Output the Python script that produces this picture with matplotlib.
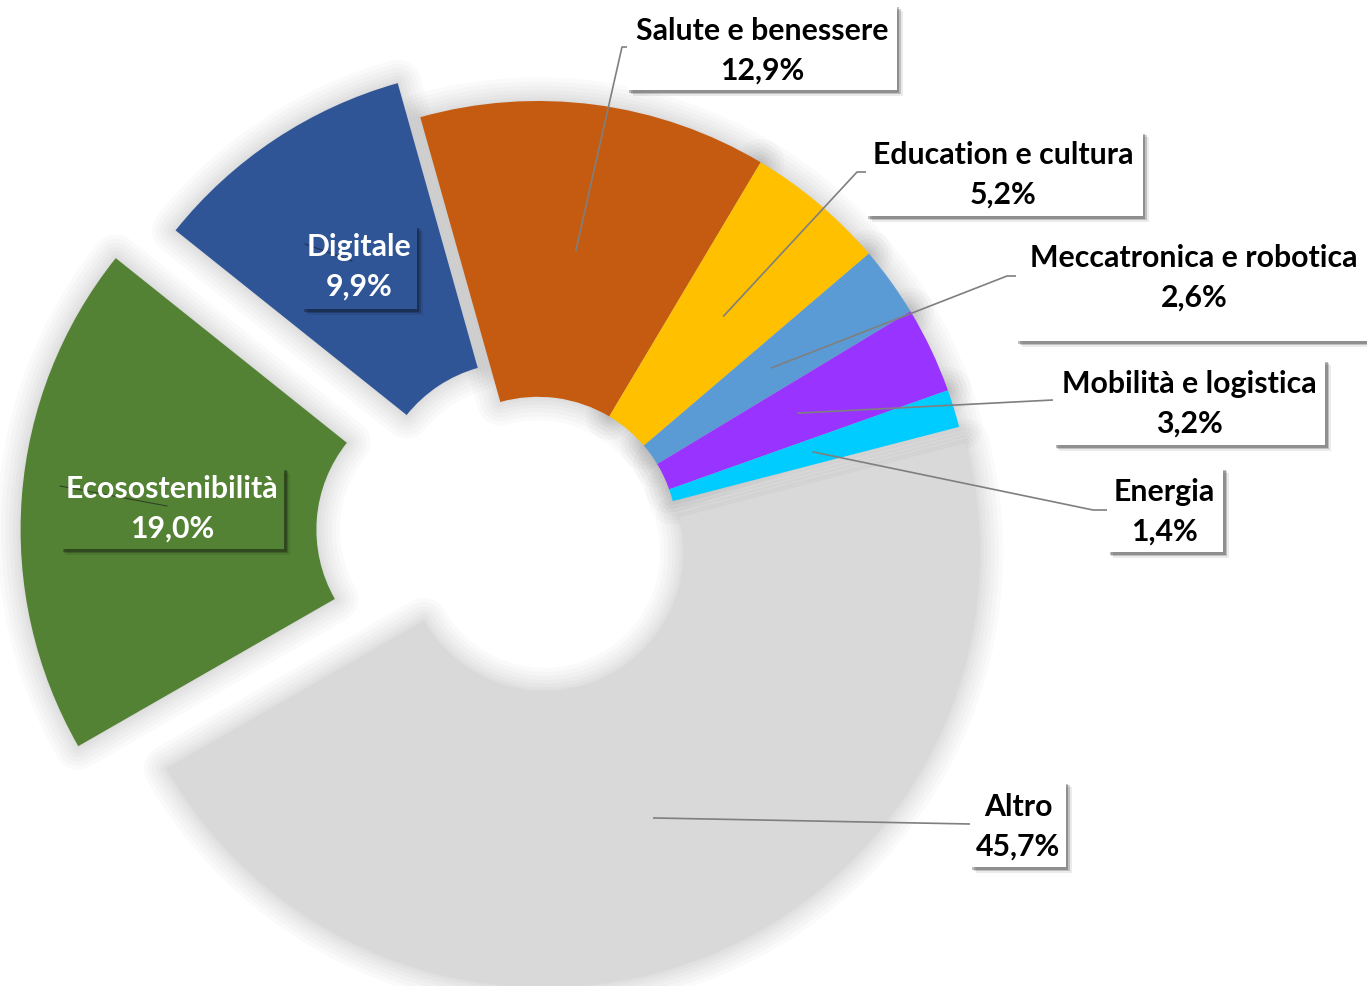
import matplotlib.pyplot as plt
from matplotlib.patches import Wedge, Rectangle
import numpy as np

categories = ['Salute e benessere', 'Education e cultura', 'Meccatronica e robotica',
              'Mobilità e logistica', 'Energia', 'Altro', 'Ecosostenibilità', 'Digitale']
values = [12.9, 5.2, 2.6, 3.2, 1.4, 45.7, 19.0, 9.9]
colors = ['#C55A11', '#FFC000', '#5B9BD5', '#9933FF', '#00CCFF',
          '#D9D9D9', '#548235', '#2F5597']
explode = [0, 0, 0, 0, 0, 0.04, 0.19, 0.094]

W, H = 1367, 987
CX, CY, R = 538, 537, 435


def px(x, y):
    # pixel position of the picture -> data units of the axes
    return (x - CX) / R, (CY - y) / R


# label boxes (x0, y0, x1, y1) in pixels, text centres, leader elbows
boxes = [(627, 6, 897, 91), (866, 132, 1143, 217), (1016, 212, 1367, 342),
         (1053, 360, 1325, 446), (1107, 468, 1223, 553), (970, 782, 1066, 868),
         (60, 468, 284, 550), (302, 226, 417, 310)]
text_pos = [(762, 51), (1003, 175), (1194, 278), (1189, 404), (1164, 512),
            (1018, 827), (172, 509), (359, 267)]
leaders = [[(622, 48), (627, 48)], [(857, 173), (866, 173)], [(1007, 277), (1016, 277)],
           [(1053, 401)], [(1093, 511), (1107, 511)], [(970, 825)], None, None]
inner_ticks = {6: [(60, 487), (167, 507)], 7: [(305, 245), (352, 262)]}
white_text = [6, 7]

fig = plt.figure(figsize=(W / 100, H / 100), dpi=100)
ax = fig.add_axes([0, 0, 1, 1])

wedges, _ = ax.pie(values, colors=colors, startangle=105.7, counterclock=False,
                   explode=explode, radius=1,
                   wedgeprops=dict(width=0.68, linewidth=0))
for w in wedges:
    w.set_zorder(1)

# soft shadow around each slice
for w in wedges:
    for lw in [34, 28, 22, 16, 11, 6, 2]:
        sh = Wedge(w.center, w.r, w.theta1, w.theta2, width=w.width,
                   facecolor='none', edgecolor=(0, 0, 0, 0.018),
                   linewidth=lw, joinstyle='round', zorder=0.5)
        ax.add_patch(sh)

# leader lines
for i, w in enumerate(wedges):
    if leaders[i] is None:
        continue
    mid = np.deg2rad((w.theta1 + w.theta2) / 2)
    rr = w.r - w.width / 2
    pts = [(w.center[0] + rr * np.cos(mid), w.center[1] + rr * np.sin(mid))]
    pts += [px(*p) for p in leaders[i]]
    xs, ys = zip(*pts)
    ax.plot(xs, ys, color='#7F7F7F', lw=1.2, zorder=2, solid_capstyle='butt')

# label boxes and texts (drawn back to front so earlier boxes sit on top)
for i in reversed(range(len(categories))):
    x0, y0, x1, y1 = boxes[i]
    bx, by = px(x0, y1)
    bw, bh = (x1 - x0) / R, (y1 - y0) / R
    z = 3 + (len(categories) - i) * 0.1
    for off, a in [(6, 0.08), (4, 0.18), (2.5, 0.25)]:
        ax.add_patch(Rectangle((bx + off / R, by - off / R), bw, bh,
                               facecolor=(0, 0, 0, a), edgecolor='none', zorder=z))
    fc = colors[i] if i in white_text else 'white'
    ax.add_patch(Rectangle((bx, by), bw, bh, facecolor=fc, edgecolor='none',
                           zorder=z + 0.01))
    if i in inner_ticks:
        xs, ys = zip(*[px(*p) for p in inner_ticks[i]])
        ax.plot(xs, ys, color='#1a1a1a', lw=0.8, alpha=0.6, zorder=z + 0.02)
    label = categories[i] + '\n' + f'{values[i]:.1f}'.replace('.', ',') + '%'
    tx, ty = px(*text_pos[i])
    ax.text(tx, ty, label, ha='center', va='center', fontsize=21.8,
            fontweight='bold', family=['Lato', 'DejaVu Sans'],
            color='white' if i in white_text else 'black',
            linespacing=1.48, zorder=z + 0.03)

ax.set_xlim(px(0, 0)[0], px(W, 0)[0])
ax.set_ylim(px(0, H)[1], px(0, 0)[1])
ax.set_aspect('equal')
ax.axis('off')

fig.savefig('out.png', dpi=100)
